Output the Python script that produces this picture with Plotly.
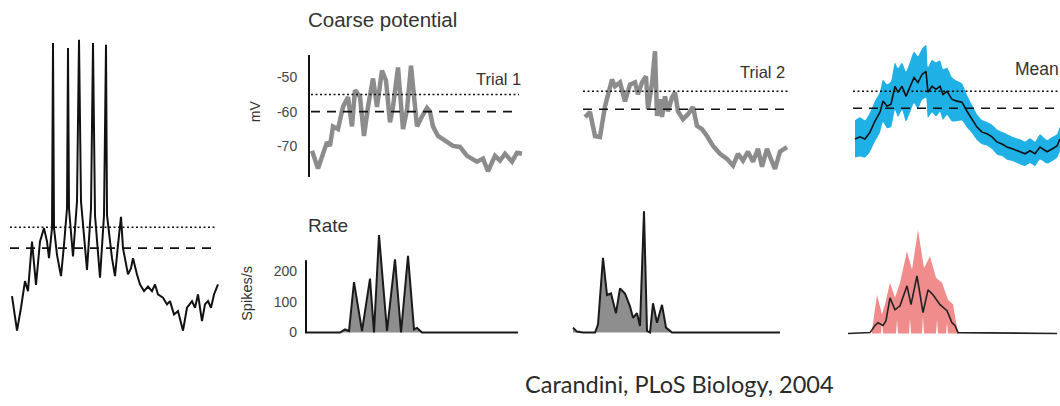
import plotly.graph_objects as go

W, H = 1060, 406

# ---------------- data ----------------
# Left: intracellular membrane potential (mV) vs time (a.u.)
raw_t = [2, 7, 11, 15, 18, 22, 26, 30, 34, 37, 39, 42, 43, 44, 47, 51, 54, 57, 58, 59,
         63, 67, 69, 71, 77, 81, 83, 85, 90, 94, 96, 97, 102, 105, 108, 111, 113, 118, 121, 123,
         127, 130, 134, 138, 142, 145, 148, 153, 157, 160, 164, 168, 173, 177, 182, 185, 188, 192, 195, 198,
         201, 204, 208]
raw_mv = [-71.5, -79.8, -74.3, -67.9, -70.3, -58.4, -68.8, -58.4, -55.2, -58.4, -62.4, -55.2, -10.8, -55.2, -61.6, -66.7, -59.2, -50.5, -12.0, -50.5,
          -62.0, -48.8, -10.0, -48.8, -65.2, -50.5, -10.8, -52.1, -67.1, -52.1, -11.2, -52.1, -62.4, -66.7, -59.2, -52.5, -60.0, -66.3, -64.8, -62.4,
          -66.3, -68.7, -70.3, -69.2, -70.3, -68.7, -71.1, -71.9, -73.5, -72.7, -75.9, -75.1, -79.8, -74.3, -72.7, -74.3, -71.1, -77.5, -73.5, -72.7,
          -74.3, -71.1, -68.7]

# Coarse potential, trial 1
tr1_t = [0, 6, 15, 18, 21, 26, 31, 36, 40, 43, 48, 52, 56, 61, 65, 70, 74, 78, 81, 86,
         91, 95, 99, 105, 110, 115, 118, 121, 126, 135, 141, 148, 155, 165, 171, 176, 183, 188, 193, 200,
         205, 210]
tr1_mv = [-71.4, -76.6, -68.9, -70.0, -64.3, -65.1, -58.6, -55.7, -64.3, -53.7, -55.7, -67.1, -58.6, -50.3, -58.6, -48.0, -50.9, -63.1, -58.6, -47.1,
          -65.1, -59.5, -46.6, -64.3, -61.4, -58.9, -60.0, -64.3, -67.1, -68.9, -70.0, -70.3, -72.9, -74.6, -73.7, -77.4, -72.9, -74.3, -72.3, -74.6,
          -72.0, -72.3]

# Coarse potential, trial 2
tr2_t = [0, 5, 10, 15, 20, 27, 30, 35, 40, 45, 50, 53, 57, 61, 63, 67, 70, 72, 75, 77,
         80, 83, 87, 90, 93, 98, 103, 108, 112, 117, 122, 128, 135, 142, 148, 153, 158, 163, 168, 173,
         177, 182, 187, 190, 195, 202]
tr2_mv = [-62.2, -60.8, -67.5, -67.8, -59.2, -51.7, -53.6, -52.5, -57.8, -53.1, -52.5, -55.8, -52.5, -50.8, -60.0, -52.8, -43.8, -61.9, -57.2, -62.2,
          -56.4, -60.6, -56.7, -55.3, -60.6, -62.8, -61.4, -59.4, -64.7, -65.6, -67.5, -70.3, -72.5, -73.9, -75.8, -72.5, -74.4, -71.9, -74.7, -71.1,
          -76.1, -71.1, -74.7, -76.7, -71.9, -70.6]

# Coarse potential, mean +- s.d.
mean_t = [0, 5, 10, 15, 20, 25, 28, 32, 36, 40, 43, 47, 51, 55, 59, 63, 67, 71, 73, 77,
          81, 85, 88, 92, 97, 102, 107, 112, 117, 122, 127, 132, 137, 142, 147, 152, 158, 165, 170, 175,
          180, 185, 192, 197, 202, 205]
mean_mv = [-69.1, -68.5, -69.1, -67.1, -63.8, -61.2, -57.9, -59.4, -58.8, -53.5, -55.3, -53.5, -56.5, -53.8, -50.9, -52.4, -50.0, -49.1, -55.3, -53.5,
           -54.4, -53.5, -55.9, -55.0, -57.4, -57.9, -58.2, -60.9, -63.2, -65.6, -67.1, -67.6, -68.5, -70.0, -70.6, -71.5, -72.1, -72.9, -73.5, -72.6,
           -73.5, -71.5, -72.9, -72.1, -71.2, -69.1]
mean_sd = [5.5, 5.8, 5.5, 5.8, 6.0, 6.0, 6.3, 6.5, 6.8, 7.0, 7.2, 7.0, 7.4, 7.5, 7.6, 7.8, 7.6, 7.8, 7.5, 7.8,
           8.0, 7.6, 7.5, 7.0, 6.5, 6.0, 5.5, 4.8, 4.2, 3.8, 3.6, 3.5, 3.6, 3.7, 3.6, 3.8, 3.6, 3.7, 3.6, 3.7,
           3.6, 3.7, 3.5, 3.6, 3.5, 3.5]

THRESH_DOT = -55
THRESH_DASH = -60

# Rate, trial 1 (spikes/s)
r1_t = [0, 33, 38, 42, 47, 55, 63, 67, 72, 80, 88, 94, 101, 107, 110, 115, 211]
r1_v = [0, 0, 10, 5, 164, 5, 175, 0, 317, 5, 238, 0, 249, 10, 15, 0, 0]

# Rate, trial 2
r2_t = [0, 4, 10, 22, 25, 30, 34, 38, 43, 47, 52, 57, 60, 64, 67, 71, 74, 77, 80, 84,
        89, 93, 99, 207]
r2_v = [16, 3, 0, 0, 26, 243, 122, 127, 63, 143, 127, 85, 48, 63, 21, 394, 5, 0, 95, 32,
        90, 16, 0, 0]

# Rate, mean and spread
rm_t = [0, 22, 27, 30, 35, 38, 42, 47, 52, 59, 63, 69, 75, 80, 85, 92, 99, 104, 107, 110, 209]
rm_v = [0, 3, 26, 35, 26, 42, 116, 77, 90, 155, 94, 187, 68, 142, 126, 94, 74, 35, 26, 3, 0]
rup_t = [24, 29, 34, 37, 42, 47, 52, 59, 64, 70, 76, 82, 88, 94, 100, 105, 109, 111]
rup_v = [10, 126, 62, 95, 165, 116, 165, 267, 207, 336, 213, 251, 181, 165, 110, 95, 19, 0]
rlo_t = [24, 33, 34, 35, 48, 49, 50, 61, 62, 63, 74, 75, 76, 88, 89, 90, 98, 99, 100, 111]
rlo_v = [0, 0, 40, 0, 0, 45, 0, 0, 50, 0, 0, 55, 0, 0, 45, 0, 0, 35, 0, 0]

RATE_TICKS = [0, 100, 200]
MV_TICKS = [-50, -60, -70]

# ---------------- layout helpers ----------------
def xd(a, b):
    return [a / W, b / W]

def yd(top, bot):
    return [1 - bot / H, 1 - top / H]

def yr(top, bot, p1, v1, p2, v2):
    k = (v2 - v1) / (p2 - p1)
    return [v1 + (bot - p1) * k, v1 + (top - p1) * k]

FONT = "Liberation Sans, Arial, sans-serif"
TXT = "#333333"

fig = go.Figure()

# Panel A: raw trace
fig.add_trace(go.Scatter(x=raw_t, y=raw_mv, mode="lines", line=dict(color="#111111", width=2),
                         xaxis="x", yaxis="y"))
# Panel B1
fig.add_trace(go.Scatter(x=tr1_t, y=tr1_mv, mode="lines", line=dict(color="#8c8c8c", width=4.5),
                         xaxis="x2", yaxis="y2"))
# Panel B2
fig.add_trace(go.Scatter(x=tr2_t, y=tr2_mv, mode="lines", line=dict(color="#8c8c8c", width=4.5),
                         xaxis="x3", yaxis="y3"))
# Panel B3: band + mean
up = [m + s for m, s in zip(mean_mv, mean_sd)]
lo = [m - s for m, s in zip(mean_mv, mean_sd)]
fig.add_trace(go.Scatter(x=mean_t + mean_t[::-1], y=up + lo[::-1], mode="lines", fill="toself",
                         fillcolor="#1fb0e6", line=dict(width=0, color="#1fb0e6", shape="spline", smoothing=0.6),
                         xaxis="x4", yaxis="y4"))
fig.add_trace(go.Scatter(x=mean_t, y=mean_mv, mode="lines", line=dict(color="#111111", width=1.6),
                         xaxis="x4", yaxis="y4"))
# Panel C1
fig.add_trace(go.Scatter(x=r1_t, y=r1_v, mode="lines", fill="tozeroy", fillcolor="#8e8e8e",
                         line=dict(color="#1a1a1a", width=2), xaxis="x5", yaxis="y5"))
# Panel C2
fig.add_trace(go.Scatter(x=r2_t, y=r2_v, mode="lines", fill="tozeroy", fillcolor="#8e8e8e",
                         line=dict(color="#1a1a1a", width=2), xaxis="x6", yaxis="y6"))
# Panel C3
fig.add_trace(go.Scatter(x=rup_t + rlo_t[::-1], y=rup_v + rlo_v[::-1], mode="lines", fill="toself",
                         fillcolor="#f08c8c", line=dict(width=0, color="#f08c8c"),
                         xaxis="x7", yaxis="y7"))
fig.add_trace(go.Scatter(x=rm_t, y=rm_v, mode="lines", line=dict(color="#222222", width=1.6),
                         xaxis="x7", yaxis="y7"))

hidden = dict(visible=False, showgrid=False, zeroline=False)

layout = dict(
    width=W, height=H, autosize=False,
    margin=dict(l=0, r=0, t=0, b=0),
    paper_bgcolor="white", plot_bgcolor="rgba(0,0,0,0)",
    showlegend=False,
    font=dict(family=FONT, color=TXT),
)
# panel A
layout["xaxis"] = dict(hidden, domain=xd(8, 222), range=[-2, 212])
layout["yaxis"] = dict(hidden, domain=yd(30, 345), range=yr(30, 345, 229, -55, 250, -60))
# panel B1 (with visible y axis)
layout["xaxis2"] = dict(hidden, domain=xd(310, 526), range=[-2, 214])
layout["yaxis2"] = dict(domain=yd(55, 178), range=yr(55, 178, 78, -50, 112.5, -60),
                        showgrid=False, zeroline=False, showline=True, linecolor="#111111", linewidth=2,
                        ticks="", tickvals=MV_TICKS, ticktext=[str(v) for v in MV_TICKS],
                        tickfont=dict(size=14, color="#444444", family=FONT), ticklabelstandoff=8,
                        anchor="x2")
# panel B2
layout["xaxis3"] = dict(hidden, domain=xd(583, 790), range=[-2, 205])
layout["yaxis3"] = dict(hidden, domain=yd(40, 185), range=yr(40, 185, 92, -55, 110, -60))
# panel B3
layout["xaxis4"] = dict(hidden, domain=xd(853, 1060), range=[-2, 205])
layout["yaxis4"] = dict(hidden, domain=yd(35, 185), range=yr(35, 185, 92, -55, 109, -60))
# panel C1
layout["xaxis5"] = dict(hidden, domain=xd(306, 521), range=[-1, 214])
layout["yaxis5"] = dict(domain=yd(200, 340), range=yr(200, 340, 335, 0, 304, 100),
                        showgrid=False, zeroline=False, showline=False,
                        ticks="", tickvals=RATE_TICKS, ticktext=[str(v) for v in RATE_TICKS],
                        tickfont=dict(size=14, color="#444444", family=FONT), ticklabelstandoff=8,
                        anchor="x5")
# panel C2
layout["xaxis6"] = dict(hidden, domain=xd(570, 785), range=[-3, 212])
layout["yaxis6"] = dict(hidden, domain=yd(200, 340), range=yr(200, 340, 335, 0, 304, 100))
# panel C3
layout["xaxis7"] = dict(hidden, domain=xd(846, 1060), range=[-2, 212])
layout["yaxis7"] = dict(hidden, domain=yd(200, 340), range=yr(200, 340, 336, 0, 305, 100))

shapes = []
def hline(xref, yref, x0, x1, y, dash, width=1.6):
    shapes.append(dict(type="line", xref=xref, yref=yref, x0=x0, x1=x1, y0=y, y1=y,
                       line=dict(color="#111111", width=width, dash=dash), layer="above"))

DOT = "2px,2.5px"
DASH = "9px,7px"
hline("x", "y", 0, 205, THRESH_DOT, DOT)
hline("x", "y", 0, 205, THRESH_DASH, DASH)
hline("x2", "y2", -1, 207, THRESH_DOT, DOT)
hline("x2", "y2", -1, 207, THRESH_DASH, DASH)
hline("x3", "y3", -2, 203, THRESH_DOT, DOT)
hline("x3", "y3", -2, 203, THRESH_DASH, DASH)
hline("x4", "y4", -2, 205, THRESH_DOT, DOT)
hline("x4", "y4", -2, 205, THRESH_DASH, DASH)
# rate axis line (panel C1)
shapes.append(dict(type="line", xref="x5 domain", yref="y5", x0=0, x1=0, y0=-3, y1=235,
                   line=dict(color="#111111", width=2)))
layout["shapes"] = shapes

ann = []
def text(s, x, y, size, xanchor="left", angle=0, color=TXT, family=FONT):
    ann.append(dict(text=s, x=x / W, y=1 - y / H, xref="paper", yref="paper", showarrow=False,
                    xanchor=xanchor, yanchor="middle", textangle=angle,
                    font=dict(size=size, color=color, family=family)))

text("Coarse potential", 306, 20, 20.5)
text("Trial 1", 523, 80, 16.5, xanchor="right")
text("Trial 2", 787, 73, 16.5, xanchor="right")
text("Mean", 1013, 70, 17.5)
text("Rate", 306, 227, 19)
text("mV", 255, 112, 14, xanchor="center", angle=-90)
text("Spikes/s", 247, 296, 14.5, xanchor="center", angle=-90)
text("Carandini, PLoS Biology, 2004", 679, 387, 23.5, xanchor="center", color="#2a2a2a",
     family="Lato, Open Sans, sans-serif")
layout["annotations"] = ann

fig.update_layout(**layout)
fig.write_html("out.html")
